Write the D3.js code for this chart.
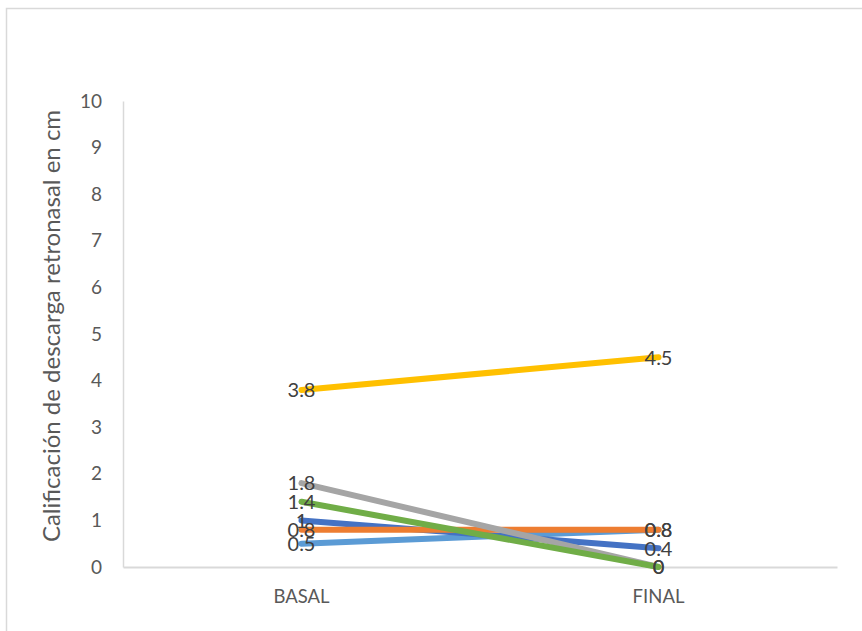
<!DOCTYPE html>
<html>
<head>
<meta charset="utf-8">
<script src="https://cdn.jsdelivr.net/npm/d3@7"></script>
<style>
  html, body { margin: 0; padding: 0; background: #fff; }
  svg { display: block; font-family: Lato, "Open Sans", sans-serif; }
</style>
</head>
<body>
<svg id="chart" width="862" height="631"></svg>
<script>
// Time points on the x axis
const categories = ["BASAL", "FINAL"];

// One line per patient (drawn in this order, later ones on top)
const seriesNames = ["S5", "S1", "S2", "S3", "S6", "S4"];
const seriesColors = ["#5B9BD5", "#4472C4", "#ED7D31", "#A5A5A5", "#70AD47", "#FFC000"];
const s5 = [0.5, 0.8];
const s1 = [1, 0.4];
const s2 = [0.8, 0.8];
const s3 = [1.8, 0];
const s6 = [1.4, 0];
const s4 = [3.8, 4.5];
const seriesValues = [s5, s1, s2, s3, s6, s4];

const yTicks = [0, 1, 2, 3, 4, 5, 6, 7, 8, 9, 10];
const yTitle = "Calificación de descarga retronasal en cm";

const svg = d3.select("#chart");

// Chart area frame
svg.append("rect")
  .attr("x", 6.5).attr("y", 8.5)
  .attr("width", 900).attr("height", 700)
  .attr("fill", "none").attr("stroke", "#d9d9d9").attr("stroke-width", 1.5);

const plot = { left: 123, right: 837, top: 101, bottom: 567 };

const x = d3.scaleBand().domain(categories).range([plot.left, plot.right]);
const y = d3.scaleLinear().domain([0, 10]).range([plot.bottom, plot.top]);

// Y axis
const yAxis = svg.append("g")
  .attr("transform", `translate(${plot.left},0)`)
  .call(d3.axisLeft(y).tickValues(yTicks).tickSize(0).tickPadding(21).tickFormat(d3.format("d")));
yAxis.select(".domain").attr("stroke", "#d9d9d9").attr("stroke-width", 1.5);
yAxis.selectAll("text")
  .attr("fill", "#595959").attr("font-size", 19).attr("font-family", "Lato, sans-serif");

// X axis
const xAxis = svg.append("g")
  .attr("transform", `translate(0,${plot.bottom})`)
  .call(d3.axisBottom(x).tickSize(0).tickPadding(23));
xAxis.select(".domain").attr("stroke", "#d9d9d9").attr("stroke-width", 2);
xAxis.selectAll("text")
  .attr("fill", "#595959").attr("font-size", 18.5).attr("font-family", "Lato, sans-serif");

// Y axis title
svg.append("text")
  .attr("transform", `translate(60,${(plot.top + plot.bottom) / 2 - 8}) rotate(-90)`)
  .attr("text-anchor", "middle")
  .attr("fill", "#595959")
  .attr("font-size", 24)
  .text(yTitle);

const cx = d => x(d) + x.bandwidth() / 2;
const line = d3.line().x((d, i) => cx(categories[i])).y(d => y(d));

// Lines
svg.append("g").selectAll("path")
  .data(seriesValues)
  .join("path")
  .attr("d", d => line(d))
  .attr("fill", "none")
  .attr("stroke", (d, i) => seriesColors[i])
  .attr("stroke-width", 6)
  .attr("stroke-linecap", "round")
  .attr("stroke-linejoin", "round");

// Data labels centred on the points
const labels = [];
seriesValues.forEach(vals => vals.forEach((v, i) => labels.push({ cat: categories[i], v })));
svg.append("g").selectAll("text")
  .data(labels)
  .join("text")
  .attr("x", d => cx(d.cat))
  .attr("y", d => y(d.v))
  .attr("dy", "0.36em")
  .attr("text-anchor", "middle")
  .attr("fill", "#404040")
  .attr("font-size", 20)
  .text(d => d.v);
</script>
</body>
</html>
